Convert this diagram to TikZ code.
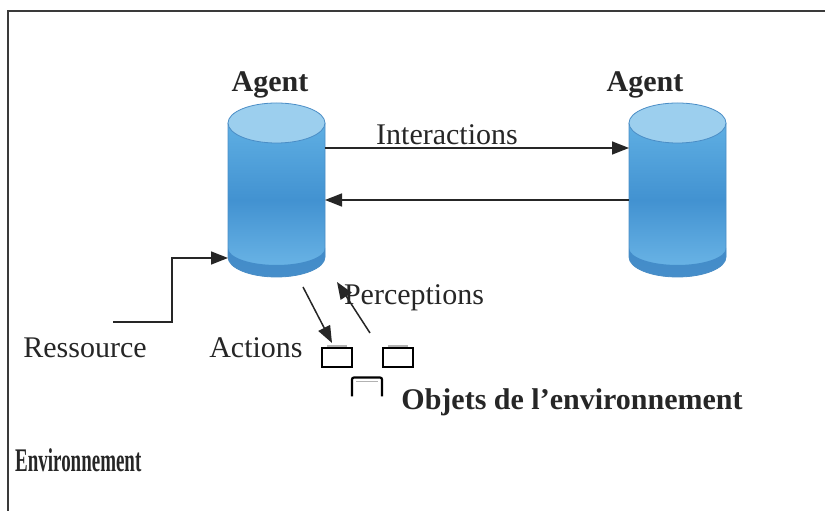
\documentclass[tikz,border=0pt]{standalone}
\usepackage{fontspec}
\setmainfont{Liberation Serif}
\usetikzlibrary{arrows.meta,calc}

\definecolor{ink}{HTML}{262626}
\definecolor{frameline}{HTML}{3A3A3A}
\definecolor{cyltop}{HTML}{9CCFEE}
\definecolor{cylhi}{HTML}{5FAFE3}
\definecolor{cylmid}{HTML}{4292D1}
\definecolor{cyllow}{HTML}{6FB8E8}
\definecolor{cylrim}{HTML}{3C84C3}
\definecolor{cyledge}{HTML}{4A8DC6}

\tikzset{
  lbl/.style={font=\fontsize{30}{36}\selectfont, text=ink, inner sep=0pt},
  boldlbl/.style={font=\fontsize{30}{36}\selectfont\bfseries, text=ink, inner sep=0pt},
  link/.style={draw=ink, line width=1.5pt, -{Triangle[length=17pt,width=13pt]}},
  agentbox/.style={minimum width=97pt, minimum height=174pt, inner sep=0pt, outer sep=0pt},
  objbox/.style={minimum width=30pt, minimum height=19pt, inner sep=0pt, outer sep=0pt},
  objline/.style={draw=black, line width=2.2pt},
}

% blue cylinder drawn inside the bounding box of node #1
\newcommand\agentcylinder[1]{%
  \shade[top color=cylhi, bottom color=cyllow, middle color=cylmid]
    ($(#1.north west)+(0,-20)$) -- ($(#1.south west)+(0,20)$)
    arc[start angle=180, end angle=360, x radius=48.5, y radius=20]
    -- ($(#1.north east)+(0,-20)$) -- cycle;
  \fill[cylrim, opacity=0.8]
    ($(#1.south west)+(0,20)$)
    arc[start angle=180, end angle=360, x radius=48.5, y radius=20]
    -- ++(0,9) arc[start angle=360, end angle=180, x radius=48.5, y radius=17] -- cycle;
  \draw[cyledge, line width=0.8pt]
    ($(#1.north west)+(0,-20)$) -- ($(#1.south west)+(0,20)$)
    arc[start angle=180, end angle=360, x radius=48.5, y radius=20]
    -- ($(#1.north east)+(0,-20)$);
  \filldraw[fill=cyltop, draw=cyledge, line width=0.8pt]
    ($(#1.north)+(0,-20)$) ellipse[x radius=48.5, y radius=20];
}

\begin{document}
\begin{tikzpicture}[x=1pt, y=1pt]
  \useasboundingbox (0,0) rectangle (825,511);

  % frame of the environment
  \draw[frameline, line width=1.4pt] (8,0) -- (8,500) -- (825,500);

  % agents
  \node[agentbox] (A1) at (276.5,321) {};
  \node[agentbox] (A2) at (677.5,321) {};
  \agentcylinder{A1}
  \agentcylinder{A2}
  \node[boldlbl, anchor=base] (t1) at (270,419) {Agent};
  \node[boldlbl, anchor=base] (t2) at (645,419) {Agent};

  % interactions between agents
  \draw[link] ([yshift=42]A1.east) -- ([yshift=42]A2.west);
  \draw[link] ([yshift=-10]A2.west) -- ([yshift=-10]A1.east);
  \node[lbl, anchor=base] (inter) at (447,366) {Interactions};

  % objects of the environment
  \node[objbox] (o1) at (337,153.5) {};
  \node[objbox] (o2) at (398,153.5) {};
  \node[objbox] (o3) at (367,124) {};
  \draw[objline] (o1.south west) rectangle (o1.north east);
  \draw[objline] (o2.south west) rectangle (o2.north east);
  \draw[objline, rounded corners=2pt] (o3.south west) -- (o3.north west) -- (o3.north east) -- (o3.south east);
  \draw[gray!60, line width=1.4pt] ([shift={(5,2)}]o1.north west) -- ([shift={(-5,2)}]o1.north east);
  \draw[gray!60, line width=1.4pt] ([shift={(5,2)}]o2.north west) -- ([shift={(-5,2)}]o2.north east);
  \draw[gray!60, line width=1.4pt] ([shift={(4,-4)}]o3.north west) -- ([shift={(-4,-4)}]o3.north east);

  % resource, actions and perceptions
  \coordinate (res) at (113,189);
  \draw[link] (res) -- ++(59,0) |- ([yshift=-68]A1.west);
  \draw[link] ([shift={(26.5,-10)}]A1.south) -- ([shift={(-5,5)}]o1.north);
  \draw[link] ([shift={(-28,15)}]o2.north) -- ([shift={(60.5,-5)}]A1.south);

  \node[lbl, anchor=base] (ress) at (85,153) {Ressource};
  \node[lbl, anchor=base] (act) at (256,153) {Actions};
  \node[lbl, anchor=base] (perc) at (414,206) {Perceptions};
  \node[boldlbl, anchor=base] (objs) at (572,101) {Objets de l'environnement};
  \node[font=\fontsize{33}{38}\selectfont\bfseries, text=ink, inner sep=0pt, anchor=base west] (env) at (15,39) {\scalebox{0.575}[1]{Environnement}};
\end{tikzpicture}
\end{document}
